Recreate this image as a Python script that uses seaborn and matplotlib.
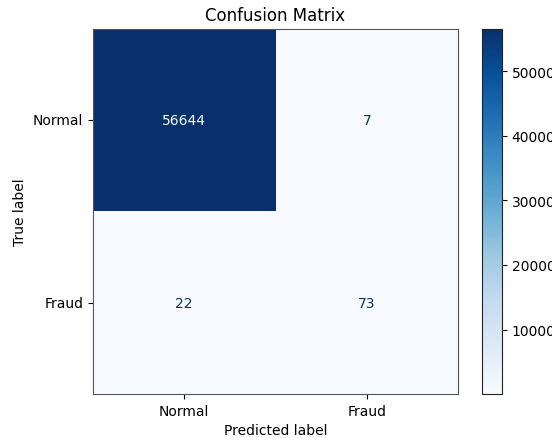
import numpy as np
import matplotlib
matplotlib.use("Agg")
import matplotlib.pyplot as plt
import seaborn as sns

labels = ["Normal", "Fraud"]
row_normal = [56644, 7]
row_fraud = [22, 73]
cbar_ticks = [10000, 20000, 30000, 40000, 50000]

cm = np.array([row_normal, row_fraud])

fig = plt.figure(figsize=(5.52, 4.39), dpi=100)
ax = fig.add_axes([93 / 552, 44 / 439, 365 / 552, 365.5 / 439])
cax = fig.add_axes([482 / 552, 44 / 439, 20 / 552, 365.5 / 439])

cmap = plt.get_cmap("Blues")
sns.heatmap(cm, ax=ax, cbar_ax=cax, cmap=cmap, annot=True, fmt="d",
            xticklabels=labels, yticklabels=labels, square=False,
            vmin=cm.min(), vmax=cm.max(),
            annot_kws={"fontsize": 10})

# text colour follows the cell shade: light text on dark cells, dark text on light ones
thresh = (cm.max() + cm.min()) / 2.0
for t, v in zip(ax.texts, cm.ravel()):
    t.set_color(cmap(0.0) if v > thresh else cmap(1.0))

for side in ["left", "right", "top", "bottom"]:
    ax.spines[side].set_visible(True)
    ax.spines[side].set_color("#555555")
    ax.spines[side].set_linewidth(0.8)

ax.tick_params(axis="both", length=3.5, width=0.8, labelsize=10)
ax.set_yticklabels(labels, rotation=0, va="center")
ax.set_xticklabels(labels, rotation=0)
ax.set_xlabel("Predicted label", fontsize=10)
ax.set_ylabel("True label", fontsize=10)
ax.set_title("Confusion Matrix", fontsize=12)

cb = ax.collections[0].colorbar
cb.set_ticks(cbar_ticks)
cb.outline.set_visible(True)
cb.outline.set_linewidth(0.8)
cb.outline.set_edgecolor("#222222")
cax.tick_params(length=3.5, width=0.8, labelsize=10)

fig.savefig("out.png", dpi=100)
